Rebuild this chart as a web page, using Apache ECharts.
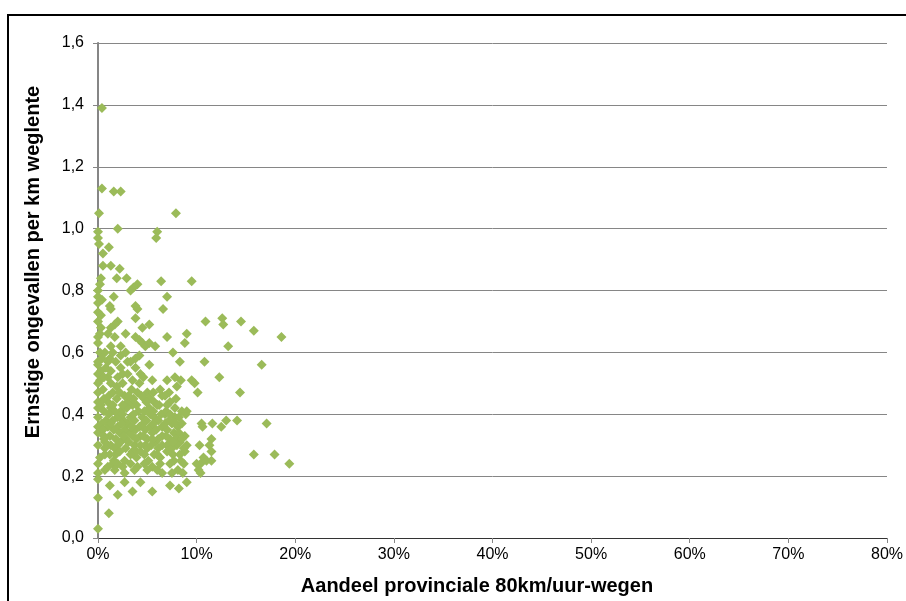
<!DOCTYPE html>
<html>
<head>
<meta charset="utf-8">
<script src="https://cdn.jsdelivr.net/npm/echarts@6/dist/echarts.min.js"></script>
<style>
  html, body { margin: 0; padding: 0; background: #fff; overflow: hidden; }
  #chart { width: 906px; height: 601px; }
</style>
</head>
<body>
<div id="chart"></div>
<script>
// Axis setup
const xTicks = [0, 10, 20, 30, 40, 50, 60, 70, 80];          // percent
const yTicks = [0, 0.2, 0.4, 0.6, 0.8, 1.0, 1.2, 1.4, 1.6];
const xTitle = 'Aandeel provinciale 80km/uur-wegen';
const yTitle = 'Ernstige ongevallen per km weglente';

// Share of provincial 80 km/h roads (%) and serious accidents per km road length
const upperPoints = [
  [0.4,1.39],[0.4,1.13],[1.6,1.12],[2.3,1.12],[0.1,1.05],[7.9,1.05],
  [2.0,1.00],[6.0,0.99],[5.9,0.97],[0.0,0.99],[0.0,0.97],[0.1,0.95],
  [1.1,0.94],[0.5,0.92],[0.5,0.88],[1.3,0.88],[2.2,0.87],
  [0.3,0.84],[1.9,0.84],[2.9,0.84],[6.4,0.83],[9.5,0.83],[4.0,0.82]
];
const midPoints = [
  [0.0,0.80],[3.3,0.80],[3.6,0.81],[0.0,0.78],[1.6,0.78],[7.0,0.78],
  [0.0,0.76],[1.2,0.75],[1.3,0.74],[3.8,0.75],[4.0,0.74],[6.6,0.74],
  [0.0,0.73],[0.3,0.72],[3.8,0.71],[10.9,0.70],[0.0,0.70],[2.0,0.70],
  [1.7,0.69],[1.3,0.68],[4.5,0.68],[5.2,0.69],[1.0,0.66],[2.8,0.66],
  [9.0,0.66],[0.0,0.65],[3.8,0.65],[7.0,0.65],[1.7,0.65],[8.8,0.63],
  [0.0,0.63],[1.3,0.62],[2.3,0.62],[4.2,0.64],[4.5,0.63],[4.8,0.62],
  [5.2,0.63],[5.8,0.62],[0.7,0.60],[7.6,0.60],[0.0,0.57],[1.2,0.58],
  [2.3,0.59],[3.8,0.58],[4.2,0.59],[8.3,0.57],[10.8,0.57],
  [12.6,0.71],[12.7,0.69],[14.5,0.70],[15.8,0.67],[18.6,0.65],[13.2,0.62],
  [16.6,0.56],[12.3,0.52],[9.5,0.51],[9.8,0.50],[8.4,0.51],[10.1,0.47],[14.4,0.47],
  [0.2,0.60],[0.4,0.58],[0.3,0.54],[0.2,0.51],[0.3,0.68],[0.2,0.66],[0.4,0.77],
  [0.2,0.82],[1.5,0.60],[2.8,0.60],[3.0,0.57],[1.0,0.52],[2.5,0.53],[3.5,0.51]
];
const clusterPoints = [
  [0.0,0.56],[1.0,0.57],[2.3,0.55],[3.3,0.57],[5.2,0.56],
  [0.0,0.53],[1.3,0.54],[3.0,0.53],[5.5,0.51],[7.0,0.51],[7.8,0.52],
  [0.0,0.50],[1.3,0.50],[2.5,0.50],[4.2,0.50],[8.0,0.49],
  [0.0,0.47],[1.5,0.47],[2.7,0.46],[4.0,0.47],[7.2,0.47],
  [0.0,0.44],[1.0,0.44],[3.0,0.44],[4.7,0.45],[5.7,0.44],[7.3,0.44],
  [0.0,0.42],[1.3,0.42],[2.3,0.41],[3.5,0.43],[5.2,0.42],[6.2,0.43],[9.0,0.41],
  [0.0,0.39],[0.8,0.38],[2.0,0.39],[3.3,0.39],[4.5,0.39],[5.7,0.39],[6.8,0.40],[7.8,0.39],
  [0.0,0.36],[1.0,0.36],[2.0,0.36],[3.0,0.37],[4.2,0.36],[5.3,0.36],[6.5,0.36],[7.5,0.37],
  [0.0,0.34],[1.2,0.33],[2.2,0.34],[3.2,0.34],[4.3,0.33],[5.5,0.34],[6.5,0.33],[7.7,0.34],
  [0.0,0.30],[1.3,0.30],[2.3,0.31],[3.7,0.30],[4.8,0.30],[5.8,0.31],[7.0,0.30],[8.0,0.30],[10.3,0.30],
  [0.5,0.48],[1.9,0.49],[3.4,0.48],[5.0,0.47],[6.3,0.48],
  [0.6,0.45],[1.9,0.45],[3.6,0.45],[5.3,0.45],[6.5,0.46],[7.9,0.45],
  [0.6,0.41],[1.7,0.41],[2.9,0.42],[4.1,0.41],[5.6,0.41],[6.9,0.41],[7.8,0.42],
  [0.4,0.37],[1.5,0.38],[2.6,0.38],[3.7,0.38],[4.9,0.38],[6.1,0.38],[7.2,0.38],[8.1,0.36],
  [0.5,0.35],[1.6,0.35],[2.7,0.35],[3.8,0.35],[4.8,0.35],[5.9,0.35],[7.0,0.35],[8.2,0.34],
  [0.6,0.32],[1.8,0.32],[2.8,0.32],[3.9,0.32],[5.0,0.32],[6.1,0.32],[7.3,0.32],[8.3,0.31],
  [0.7,0.29],[1.7,0.29],[2.8,0.29],[3.9,0.28],[5.0,0.29],[6.1,0.29],[7.5,0.29],
  [1.6,0.25],[2.7,0.25],[3.9,0.26],[5.1,0.25],[6.3,0.26],[7.7,0.25],
  [0.6,0.52],[2.0,0.52],[4.3,0.53],[0.8,0.55],[1.8,0.57],[3.8,0.55],[4.6,0.52],
  [1.1,0.46],[2.2,0.47],[3.1,0.46],[4.4,0.46],[5.6,0.47],[6.8,0.46],
  [0.3,0.43],[1.5,0.43],[2.5,0.43],[3.9,0.43],[4.9,0.44],[6.0,0.43],[7.0,0.43],
  [1.1,0.40],[2.5,0.40],[3.6,0.40],[4.7,0.41],[5.3,0.40],[6.4,0.40],[7.3,0.40],[8.2,0.39],
  [1.3,0.37],[2.4,0.37],[3.4,0.36],[4.6,0.37],[5.6,0.37],[6.8,0.37],[7.9,0.37],
  [0.6,0.33],[2.6,0.33],[3.5,0.33],[4.6,0.33],[5.5,0.32],[6.9,0.33],[7.9,0.32],[8.8,0.33],
  [0.7,0.31],[2.0,0.30],[3.1,0.31],[4.3,0.30],[5.4,0.30],[6.5,0.30],[7.6,0.31],[9.0,0.30],
  [0.7,0.27],[1.8,0.27],[3.5,0.28],[4.7,0.27],[6.0,0.27],[7.6,0.27],[8.8,0.28],
  [1.5,0.24],[2.5,0.23],[4.0,0.23],[5.5,0.23],[6.0,0.22],[8.1,0.22]
];
const rightPoints = [
  [8.5,0.41],[8.9,0.40],[8.5,0.37],[10.5,0.37],[10.6,0.36],[11.6,0.37],
  [12.5,0.36],[13.0,0.38],[14.1,0.38],[17.1,0.37],[8.5,0.32],[11.5,0.32],
  [11.3,0.30],[8.7,0.29],[11.5,0.28],[15.8,0.27],[17.9,0.27],[19.4,0.24],
  [10.7,0.26],[10.4,0.24],[11.5,0.25],[8.4,0.25],[10.2,0.22],[10.4,0.21],[8.6,0.21]
];
const lowerPoints = [
  [0.2,0.26],[1.2,0.27],[2.2,0.28],[3.3,0.27],[4.3,0.28],[5.7,0.27],[7.0,0.28],[8.3,0.27],
  [10.0,0.24],[11.0,0.25],[0.0,0.24],[1.0,0.23],[2.0,0.24],[3.3,0.24],[4.7,0.24],
  [6.3,0.24],[7.3,0.24],[8.7,0.24],[0.0,0.21],[0.7,0.22],[1.7,0.22],[2.7,0.21],
  [3.7,0.22],[5.0,0.22],[6.5,0.21],[7.5,0.21],[0.0,0.19],[1.2,0.17],[2.7,0.18],
  [4.3,0.18],[7.3,0.17],[8.2,0.16],[9.0,0.18],[2.0,0.14],[3.5,0.15],[5.5,0.15],
  [0.0,0.13],[1.1,0.08],[0.0,0.03]
];

const points = [].concat(upperPoints, midPoints, clusterPoints, rightPoints, lowerPoints);

const FONT = "'Liberation Sans', Arial, sans-serif";
const chart = echarts.init(document.getElementById('chart'), null, { renderer: 'canvas' });

chart.setOption({
  animation: false,
  backgroundColor: '#ffffff',
  grid: { left: 98, right: 15, top: 43, bottom: 63, containLabel: false },
  xAxis: [{
    type: 'value',
    min: xTicks[0], max: xTicks[xTicks.length - 1], interval: 10,
    axisLine: { show: true, lineStyle: { color: '#868686', width: 1 } },
    axisTick: { show: true, length: 5, lineStyle: { color: '#868686' } },
    axisLabel: { color: '#000', fontFamily: FONT, fontSize: 16, margin: 9,
                 formatter: v => v + '%' },
    splitLine: { show: false }
  }, {
    type: 'value', position: 'top',
    min: xTicks[0], max: xTicks[xTicks.length - 1],
    axisLine: { show: true, lineStyle: { color: '#333', width: 1 } },
    axisTick: { show: false }, axisLabel: { show: false }, splitLine: { show: false }
  }],
  yAxis: [{
    type: 'value',
    min: yTicks[0], max: yTicks[yTicks.length - 1], interval: 0.2,
    axisLine: { show: true, lineStyle: { color: '#868686', width: 1 } },
    axisTick: { show: true, length: 5, lineStyle: { color: '#868686' } },
    axisLabel: { color: '#000', fontFamily: FONT, fontSize: 16, margin: 14,
                 formatter: v => v.toFixed(1).replace('.', ',') },
    splitLine: { show: true, lineStyle: { color: '#868686', width: 1 } }
  }, {
    type: 'value', position: 'right',
    min: yTicks[0], max: yTicks[yTicks.length - 1],
    axisLine: { show: true, lineStyle: { color: '#868686', width: 2 } },
    axisTick: { show: false }, axisLabel: { show: false }, splitLine: { show: false }
  }],
  series: [{
    type: 'scatter',
    xAxisIndex: 0, yAxisIndex: 0,
    data: points,
    symbol: 'diamond',
    symbolSize: 10,
    itemStyle: { color: '#9BBB59', opacity: 1 }
  }],
  graphic: [
    {
      type: 'rect', silent: true, z: 100,
      shape: { x: 8, y: 15, width: 940, height: 640 },
      style: { fill: 'none', stroke: '#000', lineWidth: 2 }
    },
    {
      type: 'text', z: 100,
      x: 477, y: 586,
      style: { text: xTitle, font: 'bold 20px ' + FONT, fill: '#000',
               textAlign: 'center', textVerticalAlign: 'middle' }
    },
    {
      type: 'text', z: 100,
      x: 33, y: 262, rotation: Math.PI / 2,
      style: { text: yTitle, font: 'bold 20px ' + FONT, fill: '#000',
               textAlign: 'center', textVerticalAlign: 'middle' }
    }
  ]
});
</script>
</body>
</html>
